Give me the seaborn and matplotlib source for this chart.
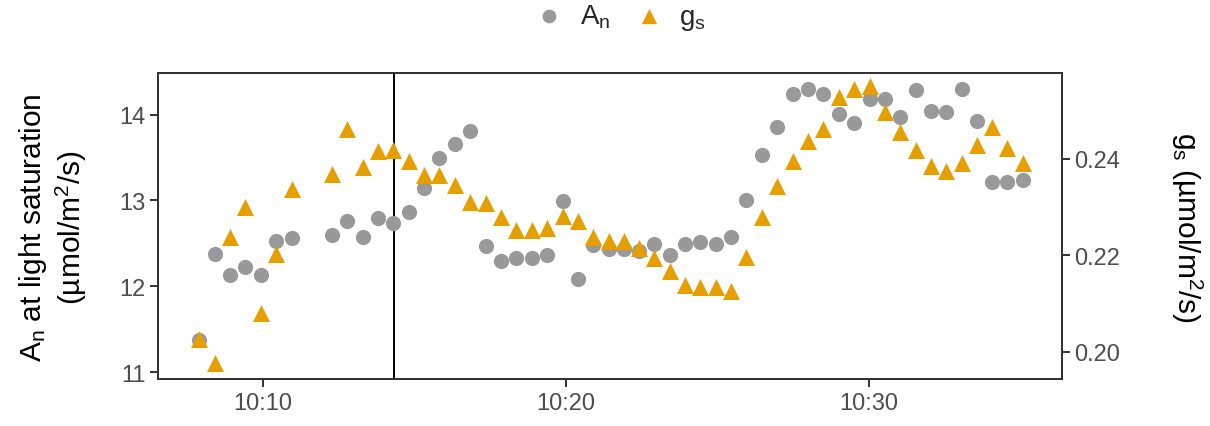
import matplotlib
matplotlib.use("Agg")
import matplotlib.pyplot as plt
import matplotlib.dates as mdates
import seaborn as sns
import pandas as pd

# sampling times (hh:mm:ss)
times = [
    "10:07:54", "10:08:24", "10:08:54", "10:09:25", "10:09:56", "10:10:25", "10:10:57",
    "10:12:17", "10:12:47", "10:13:17", "10:13:48", "10:14:18", "10:14:49", "10:15:19",
    "10:15:49", "10:16:20", "10:16:50", "10:17:21", "10:17:51", "10:18:21", "10:18:52",
    "10:19:22", "10:19:53", "10:20:23", "10:20:53", "10:21:24", "10:21:54", "10:22:25",
    "10:22:55", "10:23:25", "10:23:56", "10:24:26", "10:24:57", "10:25:27", "10:25:57",
    "10:26:28", "10:26:58", "10:27:29", "10:27:59", "10:28:29", "10:29:00", "10:29:30",
    "10:30:01", "10:30:31", "10:31:01", "10:31:32", "10:32:02", "10:32:33", "10:33:03",
    "10:33:33", "10:34:04", "10:34:34", "10:35:05",
]

# net assimilation at light saturation (umol/m2/s)
an_values = [
    11.38, 12.38, 12.13, 12.22, 12.13, 12.53, 12.56,
    12.60, 12.76, 12.58, 12.80, 12.74, 12.87, 13.14,
    13.50, 13.66, 13.81, 12.47, 12.29, 12.33, 12.33,
    12.36, 12.99, 12.08, 12.48, 12.43, 12.44, 12.41,
    12.49, 12.36, 12.49, 12.52, 12.49, 12.57, 13.01,
    13.53, 13.86, 14.24, 14.30, 14.24, 14.01, 13.90,
    14.18, 14.18, 13.97, 14.29, 14.04, 14.03, 14.30,
    13.92, 13.21, 13.22, 13.24,
]

# stomatal conductance (umol/m2/s)
gs_values = [
    0.2026, 0.1976, 0.2237, 0.2300, 0.2079, 0.2203, 0.2336,
    0.2369, 0.2461, 0.2383, 0.2415, 0.2418, 0.2394, 0.2367,
    0.2367, 0.2345, 0.2309, 0.2308, 0.2278, 0.2252, 0.2252,
    0.2256, 0.2281, 0.2271, 0.2237, 0.2230, 0.2230, 0.2215,
    0.2194, 0.2166, 0.2139, 0.2133, 0.2133, 0.2125, 0.2197,
    0.2279, 0.2343, 0.2395, 0.2436, 0.2462, 0.2527, 0.2544,
    0.2550, 0.2496, 0.2456, 0.2417, 0.2385, 0.2375, 0.2390,
    0.2428, 0.2466, 0.2421, 0.2390,
]

marker_time = "10:14:19"
scale = 56.2  # An axis units per gs unit

df = pd.DataFrame({
    "time": pd.to_datetime(["2021-06-01 " + t for t in times]),
    "An": an_values,
    "gs": gs_values,
})

sns.set_style("white")
plt.rcParams["font.family"] = ["Liberation Sans", "DejaVu Sans"]
plt.rcParams["mathtext.fontset"] = "custom"
plt.rcParams["mathtext.rm"] = "Liberation Sans"
plt.rcParams["mathtext.it"] = "Liberation Sans:italic"

grey = "#999999"
orange = "#E69F00"
text_col = "#4D4D4D"
frame_col = "#333333"

fig = plt.figure(figsize=(12.1, 4.27), dpi=100)
ax = fig.add_axes([0.1306, 0.110, 0.7471, 0.7157])
ax2 = ax.twinx()

sns.scatterplot(data=df, x="time", y="An", ax=ax, color=grey, marker="o",
                s=120, linewidth=0, legend=False, zorder=3)
sns.scatterplot(data=df, x="time", y="gs", ax=ax2, color=orange, marker="^",
                s=150, linewidth=0, legend=False, zorder=3)

ax.axvline(pd.to_datetime("2021-06-01 " + marker_time), color="black", lw=1.4, zorder=1)

ylo, yhi = 10.92, 14.48
ax.set_ylim(ylo, yhi)
ax2.set_ylim(ylo / scale, yhi / scale)
ax.set_xlim(pd.to_datetime("2021-06-01 10:06:32"), pd.to_datetime("2021-06-01 10:36:22"))

ax.set_yticks([11, 12, 13, 14])
ax2.set_yticks([0.20, 0.22, 0.24])
ax2.set_yticklabels(["0.20", "0.22", "0.24"])
ax.xaxis.set_major_locator(mdates.MinuteLocator(byminute=[10, 20, 30]))
ax.xaxis.set_major_formatter(mdates.DateFormatter("%H:%M"))

for a in (ax, ax2):
    a.tick_params(axis="both", length=6, width=1.4, color=frame_col,
                  labelsize=17, labelcolor=text_col, pad=3)
    for sp in a.spines.values():
        sp.set_color(frame_col)
        sp.set_linewidth(1.4)
ax.tick_params(axis="y", left=True, right=False)
ax.tick_params(axis="x", bottom=True)
ax2.tick_params(axis="y", right=True, left=False)

ax.set_xlabel("")
ax.set_ylabel("A$_\\mathrm{n}$ at light saturation\n(µmol/m$^2$/s)",
              fontsize=21.5, color="black", labelpad=22, linespacing=1.15)
ax2.set_ylabel("g$_\\mathrm{s}$ (µmol/m$^2$/s)", fontsize=21.5, color="black",
               rotation=270, labelpad=60)

handles = [ax.collections[0], ax2.collections[0]]
labels = ["A$_\\mathrm{n}$", "g$_\\mathrm{s}$"]
fig.legend(handles, labels, loc="upper center", bbox_to_anchor=(0.513, 1.05), ncol=2,
           frameon=False, fontsize=20, handlelength=1.0, handletextpad=0.6,
           columnspacing=0.9, markerscale=0.9)

fig.savefig("out.png", dpi=100)
